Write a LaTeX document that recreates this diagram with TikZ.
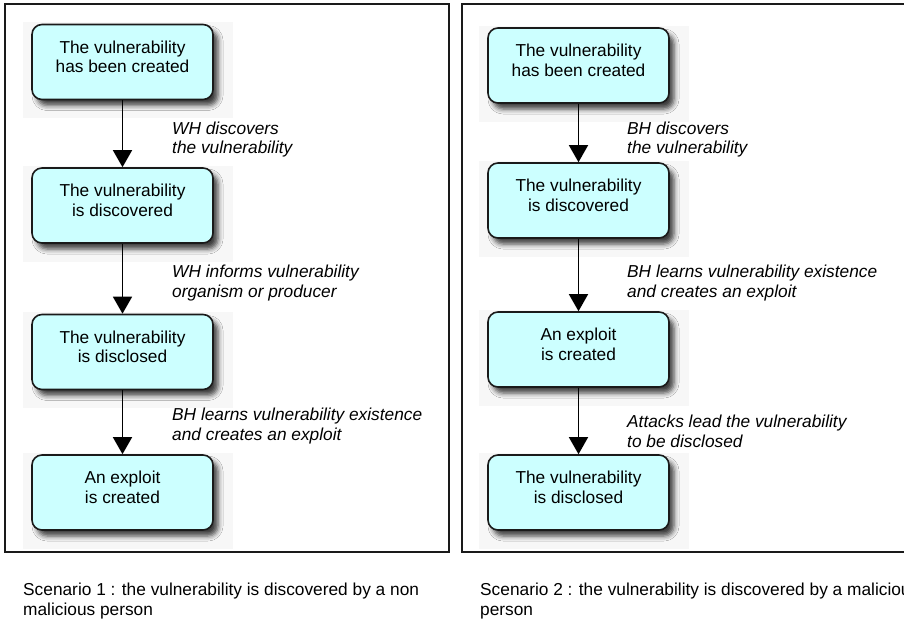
\documentclass[tikz,border=0pt]{standalone}
\usepackage{fontspec}
\setmainfont{Liberation Sans}
\usetikzlibrary{shadows.blur,arrows.meta}
\definecolor{boxfill}{HTML}{CCFFFF}
\definecolor{edge}{HTML}{1A1A1A}
\tikzset{
  state/.style={draw=edge, line width=1.6pt, fill=boxfill, rounded corners=10pt,
    minimum width=181pt, minimum height=75pt, inner sep=0pt,
    blur shadow={shadow xshift=5pt, shadow yshift=-6pt, shadow blur radius=5pt, shadow opacity=75}},
  halo/.style={fill=black!3, draw=none},
  boxtext/.style={font=\fontsize{17.3}{19.5}\selectfont, align=center, inner sep=0pt},
  lbl/.style={font=\fontsize{17.3}{19.5}\selectfont\itshape, align=left, inner sep=0pt, anchor=west},
  caption/.style={font=\fontsize{17.3}{20}\selectfont, align=left, inner sep=0pt, anchor=west},
  flow/.style={line width=1.5pt, draw=black, -{Triangle[width=19pt,length=17pt]}},
  frame/.style={draw=edge, line width=1.8pt}
}
\begin{document}
\begin{tikzpicture}[x=1pt,y=-1pt]
\useasboundingbox (0,0) rectangle (904,621);
\clip (0,0) rectangle (904,621);
\fill[white] (0,0) rectangle (904,621);

% scenario frames
\draw[frame] (5,4) rectangle (449,552);
\draw[frame] (462,4) rectangle (930,552);

% faint backdrops behind the shadows
\foreach \cx/\cy in {122.5/62, 122.5/205.5, 122.5/352, 122.5/492.5,
                     578.5/65.5, 578.5/200.5, 578.5/349.5, 578.5/492.5}{
  \fill[halo] (\cx-100,\cy-40) rectangle (\cx+110,\cy+56);
}

% scenario 1
\node[state] (a1) at (122.5,62) {};
\node[state] (a2) at (122.5,205.5) {};
\node[state] (a3) at (122.5,352) {};
\node[state] (a4) at (122.5,492.5) {};
\node[boxtext] (a1t) at ([yshift=5pt]a1.center) {The vulnerability\\has been created};
\node[boxtext] (a2t) at ([yshift=5pt]a2.center) {The vulnerability\\is discovered};
\node[boxtext] (a3t) at ([yshift=5pt]a3.center) {The vulnerability\\is disclosed};
\node[boxtext] (a4t) at ([yshift=5pt]a4.center) {An exploit\\is created};
\draw[flow] (a1) -- (a2);
\draw[flow] (a2) -- (a3);
\draw[flow] (a3) -- (a4);
\node[lbl] (l1) at (172,139.5) {WH discovers\\the vulnerability};
\node[lbl] (l2) at (172,283) {WH informs vulnerability\\organism or producer};
\node[lbl] (l3) at (172,426) {BH learns vulnerability existence\\and creates an exploit};

% scenario 2
\node[state] (b1) at (578.5,65.5) {};
\node[state] (b2) at (578.5,200.5) {};
\node[state] (b3) at (578.5,349.5) {};
\node[state] (b4) at (578.5,492.5) {};
\node[boxtext] (b1t) at ([yshift=5pt]b1.center) {The vulnerability\\has been created};
\node[boxtext] (b2t) at ([yshift=5pt]b2.center) {The vulnerability\\is discovered};
\node[boxtext] (b3t) at ([yshift=5pt]b3.center) {An exploit\\is created};
\node[boxtext] (b4t) at ([yshift=5pt]b4.center) {The vulnerability\\is disclosed};
\draw[flow] (b1) -- (b2);
\draw[flow] (b2) -- (b3);
\draw[flow] (b3) -- (b4);
\node[lbl] (m1) at (627,139.5) {BH discovers\\the vulnerability};
\node[lbl] (m2) at (627,283) {BH learns vulnerability existence\\and creates an exploit};
\node[lbl] (m3) at (627,431.5) {Attacks lead the vulnerability\\to be disclosed};

% captions
\node[caption] (c1) at (23,601) {Scenario 1 : the vulnerability is discovered by a non\\malicious person};
\node[caption] (c2) at (480,601) {Scenario 2 : the vulnerability is discovered by a malicious\\person};
\end{tikzpicture}
\end{document}
